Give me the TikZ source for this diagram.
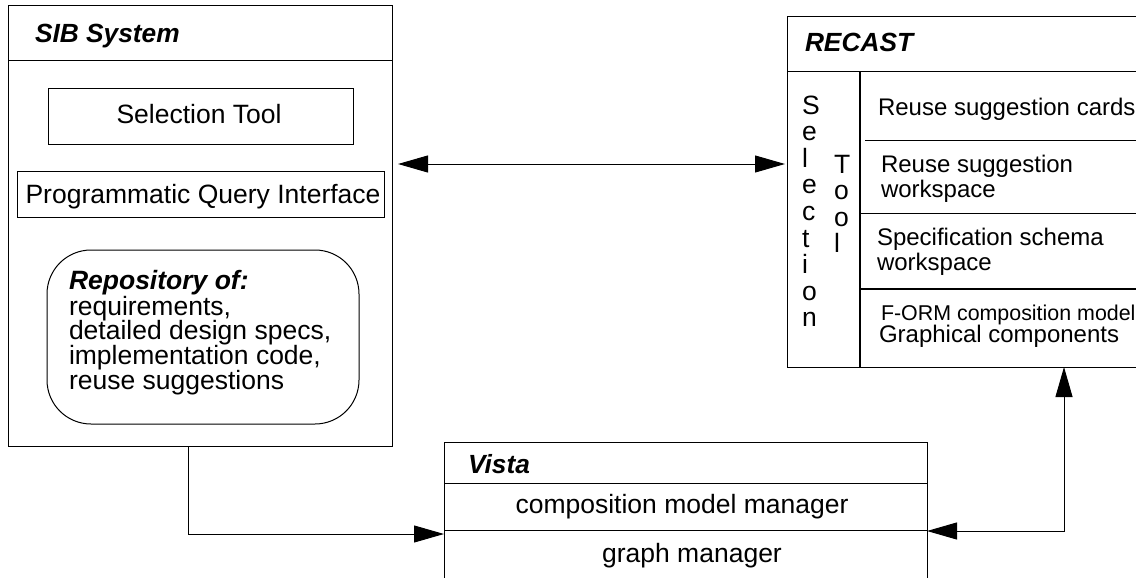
\documentclass[tikz,border=0pt]{standalone}
\usepackage{fontspec}
\setmainfont{Liberation Sans}
\usetikzlibrary{arrows.meta}
\begin{document}
\begin{tikzpicture}[x=1pt,y=-1pt,
  box/.style={draw, line width=1pt, inner sep=0pt, outer sep=0pt, anchor=north west},
  txt/.style={inner sep=0pt, outer sep=0pt, font=\fontsize{26.5}{25}\selectfont},
  ttl/.style={inner sep=0pt, outer sep=0pt, font=\fontsize{26.3}{26}\selectfont\bfseries\itshape, anchor=base west},
  rtxt/.style={inner sep=0pt, outer sep=0pt, font=\fontsize{24}{24.5}\selectfont, anchor=base west, align=left},
  divider/.style={line width=1pt},
  thickdiv/.style={line width=2pt},
  arrboth/.style={line width=1pt, {Triangle[length=30pt,width=17pt]}-{Triangle[length=30pt,width=17pt]}},
  arrend/.style={line width=1pt, -{Triangle[length=30pt,width=17pt]}}
]
\useasboundingbox (0,0) rectangle (1136,578);
\clip (0,0) rectangle (1136,578);

% ---------- SIB System ----------
\node[box, minimum width=384pt, minimum height=440pt] (sib) at (8,6) {};
\draw[divider] ([yshift=-55pt]sib.north west) -- ([yshift=-55pt]sib.north east);
\node[ttl] (sibt) at (35,43) {SIB System};
\node[box, minimum width=305pt, minimum height=55pt] (selbox) at (48,89) {};
\node[txt, anchor=base] (selt) at (199,123) {Selection Tool};
\node[box, minimum width=367pt, minimum height=46pt] (pqibox) at (17,171) {};
\node[txt, anchor=base] (pqit) at (203,203) {Programmatic Query Interface};
\node[box, rounded corners=44pt, minimum width=312pt, minimum height=174pt] (repo) at (47,250) {};
\node[txt, anchor=base west] (r1) at (69,289) {\bfseries\itshape Repository of:};
\node[txt, anchor=base west] (r2) at (69,315) {requirements,};
\node[txt, anchor=base west] (r3) at (69,339) {detailed design specs,};
\node[txt, anchor=base west] (r4) at (69,364) {implementation code,};
\node[txt, anchor=base west] (r5) at (69,389) {reuse suggestions};

% ---------- RECAST ----------
\node[box, minimum width=400pt, minimum height=350pt] (recast) at (787,17) {};
\draw[divider] ([yshift=-55pt]recast.north west) -- ([yshift=-55pt]recast.north east);
\node[ttl] (rect) at (805,52) {RECAST};
\draw[thickdiv] (860,72) -- (860,367);
\draw[divider] (865,140) -- (1140,140);
\draw[divider] (861,213) -- (1140,213);
\draw[thickdiv] (860,289) -- (1140,289);
\foreach \l [count=\i] in {S,e,l,e,c,t,i,o,n}
  \node[txt, anchor=base west] (sl\i) at (802,114.3+26.55*\i-26.55) {\l};
\foreach \l [count=\i] in {T,o,o,l}
  \node[txt, anchor=base west] (tl\i) at (834,173+26.55*\i-26.55) {\l};
\node[rtxt] (c1) at (878,115) {Reuse suggestion cards};
\node[rtxt] (c2a) at (881,172.5) {Reuse suggestion};
\node[rtxt] (c2b) at (881,197) {workspace};
\node[rtxt] (c3a) at (877,245) {Specification schema};
\node[rtxt] (c3b) at (877,270) {workspace};
\node[rtxt, font=\fontsize{21.4}{22}\selectfont] (c4a) at (881,320) {F-ORM composition model};
\node[rtxt] (c4b) at (879,342) {Graphical components};

% ---------- Vista ----------
\node[box, minimum width=483pt, minimum height=200pt] (vista) at (444,442) {};
\draw[divider] ([yshift=-41pt]vista.north west) -- ([yshift=-41pt]vista.north east);
\draw[divider] ([yshift=-88pt]vista.north west) -- ([yshift=-88pt]vista.north east);
\node[ttl] (vt) at (468,473) {Vista};
\node[txt, anchor=base] (v1) at (682,513) {composition model manager};
\node[txt, anchor=base] (v2) at (692,562) {graph manager};

% ---------- connectors ----------
\coordinate (y164) at (0,164);
\coordinate (x188) at (188,0);
\coordinate (y534) at (0,534);
\coordinate (y531) at (0,531);
\coordinate (x1064) at (1064,0);
\draw[arrboth] ([xshift=6pt]sib.east |- y164) -- ([xshift=-2pt]recast.west |- y164);
\draw[arrend] (sib.south -| x188) |- (vista.west |- y534);
\draw[arrboth] (vista.east |- y531) -| (x1064 |- recast.south);
\end{tikzpicture}
\end{document}
